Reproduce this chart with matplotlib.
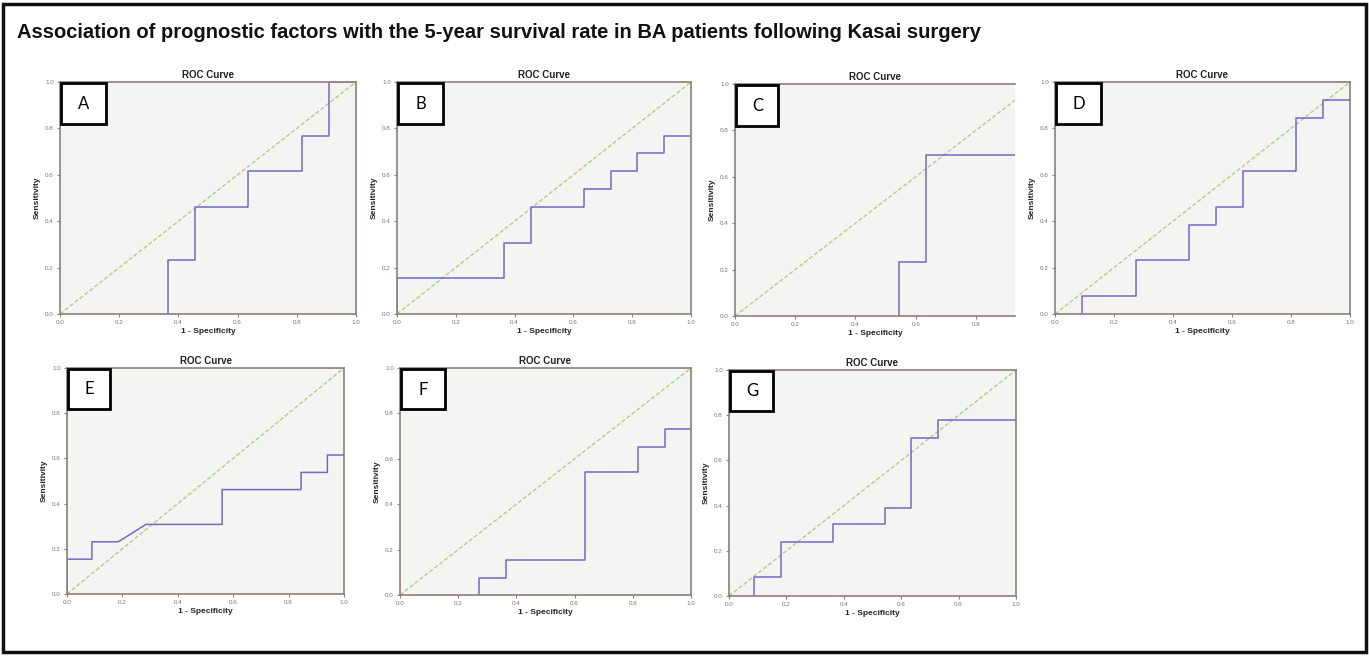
import matplotlib
matplotlib.use('Agg')
import matplotlib.pyplot as plt
from matplotlib.patches import Rectangle

plt.rcParams['font.family'] = ['Liberation Sans', 'DejaVu Sans']

title = 'Association of prognostic factors with the 5-year survival rate in BA patients following Kasai surgery'
panel_letters = ['A', 'B', 'C', 'D', 'E', 'F', 'G']

# ROC coordinates (1 - specificity, sensitivity)
fpr_a = [0.364, 0.364, 0.455, 0.455, 0.636, 0.636, 0.818, 0.818, 0.909, 0.909, 1.0]
tpr_a = [0.0, 0.231, 0.231, 0.462, 0.462, 0.615, 0.615, 0.769, 0.769, 1.0, 1.0]

fpr_b = [0.0, 0.0, 0.364, 0.364, 0.455, 0.455, 0.636, 0.636, 0.727, 0.727, 0.818, 0.818, 0.909, 0.909, 1.0]
tpr_b = [0.0, 0.154, 0.154, 0.308, 0.308, 0.462, 0.462, 0.538, 0.538, 0.615, 0.615, 0.692, 0.692, 0.769, 0.769]

fpr_c = [0.545, 0.545, 0.636, 0.636, 1.0]
tpr_c = [0.0, 0.231, 0.231, 0.692, 0.692]

fpr_d = [0.091, 0.091, 0.273, 0.273, 0.455, 0.455, 0.545, 0.545, 0.636, 0.636, 0.818, 0.818, 0.909, 0.909, 1.0]
tpr_d = [0.0, 0.077, 0.077, 0.231, 0.231, 0.385, 0.385, 0.462, 0.462, 0.615, 0.615, 0.846, 0.846, 0.923, 0.923]

fpr_e = [0.0, 0.0, 0.09, 0.09, 0.185, 0.285, 0.56, 0.56, 0.845, 0.845, 0.94, 0.94, 1.0]
tpr_e = [0.0, 0.154, 0.154, 0.231, 0.231, 0.308, 0.308, 0.462, 0.462, 0.538, 0.538, 0.615, 0.615]

fpr_f = [0.273, 0.273, 0.364, 0.364, 0.636, 0.636, 0.818, 0.818, 0.909, 0.909, 1.0]
tpr_f = [0.0, 0.077, 0.077, 0.154, 0.154, 0.54, 0.54, 0.65, 0.65, 0.73, 0.73]

fpr_g = [0.087, 0.087, 0.18, 0.18, 0.363, 0.363, 0.543, 0.543, 0.634, 0.634, 0.727, 0.727, 1.0]
tpr_g = [0.0, 0.086, 0.086, 0.24, 0.24, 0.32, 0.32, 0.39, 0.39, 0.70, 0.70, 0.78, 0.78]

curves = [(fpr_a, tpr_a), (fpr_b, tpr_b), (fpr_c, tpr_c), (fpr_d, tpr_d),
          (fpr_e, tpr_e), (fpr_f, tpr_f), (fpr_g, tpr_g)]
tick_values = [0.0, 0.2, 0.4, 0.6, 0.8, 1.0]
tick_labels = ['0.0', '0.2', '0.4', '0.6', '0.8', '1.0']

W, H = 1369, 656
# axes boxes in pixels: left, right, top, bottom
boxes = [(60, 356, 82, 314), (397, 691, 82, 314), (735, 1015, 84, 316), (1055, 1350, 82, 314),
         (67, 344, 368, 594), (400, 691, 368, 595), (729, 1016, 370, 596)]
x_max = [1.0, 1.0, 0.93, 1.0, 1.0, 1.0, 1.0]

frame_col = '#8c7f78'
curve_col = '#7766c4'
diag_col = '#a9d18e'

fig = plt.figure(figsize=(W / 100, H / 100), dpi=100)
fig.patch.set_facecolor('white')

fig.patches.append(Rectangle((3 / W, 1 - 652 / H), 1363 / W, 648 / H, transform=fig.transFigure,
                             fill=False, edgecolor='#111111', linewidth=2.5))
fig.text(17 / W, 1 - 32 / H, title, fontsize=14.5, fontweight='bold', va='center', ha='left', color='#111111')

for i, (l, r, t, b) in enumerate(boxes):
    ax = fig.add_axes([l / W, 1 - b / H, (r - l) / W, (b - t) / H])
    ax.set_facecolor('#f4f4f2')
    fpr, tpr = curves[i]
    ax.plot([0, 1], [0, 1], color=diag_col, linewidth=1.0, linestyle=(0, (3, 1.5)))
    ax.plot(fpr, tpr, color=curve_col, linewidth=1.1)
    ax.set_xlim(0, x_max[i])
    ax.set_ylim(0, 1)
    ax.set_xticks([v for v in tick_values if v <= x_max[i]])
    ax.set_xticklabels([lab for v, lab in zip(tick_values, tick_labels) if v <= x_max[i]])
    ax.set_yticks(tick_values)
    ax.set_yticklabels(tick_labels)
    ax.tick_params(labelsize=4.5, labelcolor='#777777', color=frame_col, length=2.5, width=0.8, pad=2)
    for side, spine in ax.spines.items():
        spine.set_color(frame_col)
        spine.set_linewidth(1.2)
    if x_max[i] < 1.0:
        ax.spines['right'].set_visible(False)
    ax.set_title('ROC Curve', fontsize=7, fontweight='bold', pad=3, color='#222222')
    ax.set_xlabel('1 - Specificity', fontsize=6, fontweight='bold', labelpad=2, color='#222222')
    ax.set_ylabel('Sensitivity', fontsize=6, fontweight='bold', labelpad=3, color='#222222')
    ax.add_patch(Rectangle((0.005, 0.82), 0.15, 0.175, transform=ax.transAxes, fill=True,
                           facecolor='white', edgecolor='black', linewidth=2, zorder=5, clip_on=False))
    ax.text(0.08, 0.905, panel_letters[i], transform=ax.transAxes, fontsize=12, ha='center', va='center',
            family=['Lato', 'DejaVu Sans'], zorder=6)

fig.savefig('out.png', dpi=100)
